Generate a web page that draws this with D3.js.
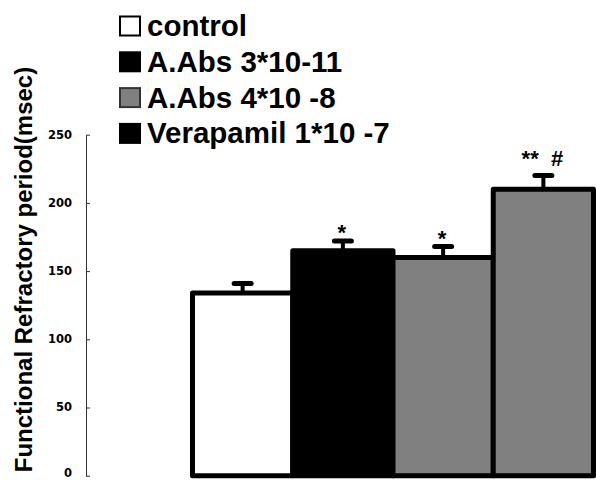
<!DOCTYPE html>
<html lang="en">
	<head>
		<meta charset="utf-8">
		<title>Functional refractory period</title>
		<script type="text/javascript" src="https://cdn.jsdelivr.net/npm/d3@7"></script>
		<style type="text/css">
			body { margin: 0; background: #fff; }
			text { font-family: "Liberation Sans", Arial, sans-serif; font-weight: bold; }
			.axis text { font-family: "DejaVu Sans", sans-serif; font-weight: bold; font-size: 11.5px; fill: #000; }
			.axis path, .axis line { stroke: #333; stroke-width: 1px; }
		</style>
	</head>
	<body>
		<script type="text/javascript">

			// data
			var groups = ["control", "A.Abs 3*10-11", "A.Abs 4*10 -8", "Verapamil 1*10 -7"];
			var means = [134, 165, 160, 210];
			var errors = [7, 7, 8, 10];
			var marks = ["", "*", "*", "**  #"];
			var barFills = ["#ffffff", "#000000", "#808080", "#808080"];
			var legendFills = ["#ffffff", "#000000", "#808080", "#000000"];
			var yTicks = [0, 50, 100, 150, 200, 250];

			var w = 596;
			var h = 480;

			var data = groups.map(function(g, i) {
				return { name: g, mean: means[i], err: errors[i], mark: marks[i], fill: barFills[i] };
			});

			var svg = d3.select("body")
						.append("svg")
						.attr("width", w)
						.attr("height", h);

			var yScale = d3.scaleLinear()
						   .domain([0, 250])
						   .range([475.7, 134.7]);

			var xScale = d3.scaleBand()
						   .domain(groups)
						   .range([192.5, 593.5])
						   .padding(0);

			//Define Y axis, ticks pointing inward
			var yAxis = d3.axisLeft()
						  .scale(yScale)
						  .tickValues(yTicks)
						  .tickSizeInner(-4)
						  .tickSizeOuter(0)
						  .tickPadding(14);

			svg.append("g")
				.attr("class", "axis")
				.attr("transform", "translate(86,0)")
				.call(yAxis)
				.selectAll("text")
				.attr("dy", function(d) { return d === 0 ? "1px" : "0.3em"; }); // keep the 0 inside the frame

			//Bars
			svg.selectAll("rect.bar")
			   .data(data)
			   .enter()
			   .append("rect")
			   .attr("class", "bar")
			   .attr("x", function(d) { return xScale(d.name); })
			   .attr("y", function(d) { return yScale(d.mean); })
			   .attr("width", xScale.bandwidth())
			   .attr("height", function(d) { return yScale(0) - yScale(d.mean); })
			   .attr("fill", function(d) { return d.fill; })
			   .attr("stroke", "#000")
			   .attr("stroke-width", 5)
			   .attr("stroke-linejoin", "round");

			//Error bars (upper only)
			var cx = function(d) { return xScale(d.name) + xScale.bandwidth() / 2; };

			svg.selectAll("line.stem")
			   .data(data)
			   .enter()
			   .append("line")
			   .attr("class", "stem")
			   .attr("x1", cx)
			   .attr("x2", cx)
			   .attr("y1", function(d) { return yScale(d.mean); })
			   .attr("y2", function(d) { return yScale(d.mean + d.err); })
			   .attr("stroke", "#000")
			   .attr("stroke-width", 4);

			svg.selectAll("line.cap")
			   .data(data)
			   .enter()
			   .append("line")
			   .attr("class", "cap")
			   .attr("x1", function(d) { return cx(d) - 8.5; })
			   .attr("x2", function(d) { return cx(d) + 8.5; })
			   .attr("y1", function(d) { return yScale(d.mean + d.err); })
			   .attr("y2", function(d) { return yScale(d.mean + d.err); })
			   .attr("stroke", "#000")
			   .attr("stroke-width", 5)
			   .attr("stroke-linecap", "round");

			//Significance marks
			svg.selectAll("text.mark")
			   .data(data)
			   .enter()
			   .append("text")
			   .attr("class", "mark")
			   .attr("x", function(d) { return cx(d) - 1; })
			   .attr("y", function(d) {
			   		// asterisks sit high in the em box, "#" sits on the baseline
			   		return yScale(d.mean + d.err) - (d.mark.indexOf("#") >= 0 ? 10 : 1);
			   })
			   .attr("text-anchor", "middle")
			   .style("font-size", "22px")
			   .style("white-space", "pre")
			   .text(function(d) { return d.mark; });

			//Y axis title
			svg.append("text")
				.attr("transform", "translate(32,269.5) rotate(-90)")
				.attr("text-anchor", "middle")
				.style("font-size", "24px")
				.text("Functional Refractory period(msec)");

			//Legend
			var legend = svg.selectAll("g.legend")
							.data(groups)
							.enter()
							.append("g")
							.attr("class", "legend")
							.attr("transform", function(d, i) { return "translate(0," + (36 + i * 35.8) + ")"; });

			legend.append("rect")
				  .attr("x", 120)
				  .attr("y", -19.5)
				  .attr("width", 20)
				  .attr("height", 19)
				  .attr("fill", function(d, i) { return legendFills[i]; })
				  .attr("stroke", function(d, i) { return i == 2 ? "#333" : "#000"; })
				  .attr("stroke-width", 2);

			legend.append("text")
				  .attr("x", 147)
				  .attr("y", 0)
				  .style("font-size", "29.5px")
				  .text(function(d) { return d; });

		</script>
	</body>
</html>
